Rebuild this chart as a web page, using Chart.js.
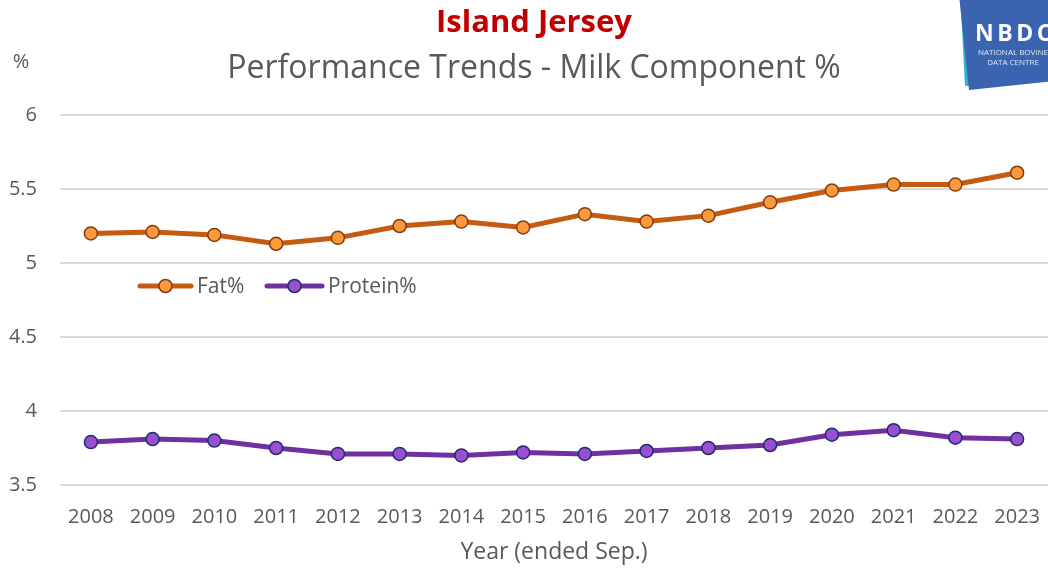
<!DOCTYPE html>
<html>
<head>
<meta charset="utf-8">
<script src="https://cdn.jsdelivr.net/npm/chart.js@4/dist/chart.umd.min.js"></script>
<style>
  html, body { margin: 0; padding: 0; background: #fff; }
  #wrap { position: relative; width: 1048px; height: 570px; overflow: hidden; }
  canvas { position: absolute; left: 0; top: 0; }
  .logo-back { position: absolute; left: 965px; top: -14px; width: 110px; height: 100px;
    background: #2cb5c9; transform: rotate(-3deg); transform-origin: 0 100%; }
  .logo { position: absolute; left: 969px; top: -10px; width: 110px; height: 100px;
    background: #3a64b0; transform: rotate(-6deg); transform-origin: 0 100%; }
  .logo-text { position: absolute; left: 975px; top: 20px; color: #fff; font-family: "Open Sans", sans-serif;
    font-weight: 700; font-size: 23px; letter-spacing: 3.5px; line-height: 24px; white-space: nowrap; }
  .logo-sub { position: absolute; left: 975px; top: 47px; color: #dfe8f6; font-family: "Open Sans", sans-serif;
    font-size: 8px; line-height: 9.5px; text-align: center; width: 76px; white-space: nowrap; }
</style>
</head>
<body>
<div id="wrap">
  <canvas id="c" width="1048" height="570"></canvas>
  <div class="logo-back"></div>
  <div class="logo"></div>
  <div class="logo-text">NBDC</div>
  <div class="logo-sub">NATIONAL BOVINE<br>DATA CENTRE</div>
</div>
<script>
// Years (ended September)
const years = ['2008','2009','2010','2011','2012','2013','2014','2015',
               '2016','2017','2018','2019','2020','2021','2022','2023'];
// Average milk fat %
const fatPct = [5.20, 5.21, 5.19, 5.13, 5.17, 5.25, 5.28, 5.24,
                5.33, 5.28, 5.32, 5.41, 5.49, 5.53, 5.53, 5.61];
// Average milk protein %
const proteinPct = [3.79, 3.81, 3.80, 3.75, 3.71, 3.71, 3.70, 3.72,
                    3.71, 3.73, 3.75, 3.77, 3.84, 3.87, 3.82, 3.81];
// Y axis ticks
const yTicks = [3.5, 4, 4.5, 5, 5.5, 6];

const FONT = '"Open Sans", sans-serif';
const GREY = '#595959';

// Titles, unit label and in-plot legend
const decorations = {
  id: 'decorations',
  afterDraw(chart) {
    const ctx = chart.ctx;
    ctx.save();
    ctx.textBaseline = 'middle';
    ctx.textAlign = 'center';
    ctx.fillStyle = '#c00000';
    ctx.font = 'bold 31px ' + FONT;
    ctx.fillText('Island Jersey', 534, 23);
    ctx.fillStyle = GREY;
    ctx.font = '32px ' + FONT;
    ctx.fillText('Performance Trends - Milk Component %', 534, 69);
    ctx.font = '20px ' + FONT;
    ctx.fillText('%', 21, 62);

    // legend
    const items = chart.data.datasets.map((ds, i) => ({ ds, x: i === 0 ? 140 : 267, len: i === 0 ? 51 : 55 }));
    const y = 286;
    ctx.textAlign = 'left';
    ctx.font = '21px ' + FONT;
    items.forEach(({ ds, x, len }) => {
      ctx.strokeStyle = ds.borderColor;
      ctx.lineWidth = ds.borderWidth;
      ctx.lineCap = 'round';
      ctx.beginPath();
      ctx.moveTo(x, y);
      ctx.lineTo(x + len, y);
      ctx.stroke();
      ctx.beginPath();
      ctx.arc(x + len / 2, y, ds.pointRadius, 0, Math.PI * 2);
      ctx.fillStyle = ds.pointBackgroundColor;
      ctx.fill();
      ctx.lineWidth = ds.pointBorderWidth;
      ctx.strokeStyle = ds.pointBorderColor;
      ctx.stroke();
      ctx.fillStyle = GREY;
      ctx.fillText(ds.label, x + len + 6, y + 1);
    });
    ctx.restore();
  }
};

new Chart(document.getElementById('c'), {
  type: 'line',
  data: {
    labels: years,
    datasets: [
      {
        label: 'Fat%',
        data: fatPct,
        borderColor: '#c55a11',
        borderWidth: 5,
        pointRadius: 6.5,
        pointBackgroundColor: '#fb9a3c',
        pointBorderColor: '#843c0c',
        pointBorderWidth: 1.5,
        tension: 0
      },
      {
        label: 'Protein%',
        data: proteinPct,
        borderColor: '#7030a0',
        borderWidth: 5,
        pointRadius: 6.5,
        pointBackgroundColor: '#9a4fd0',
        pointBorderColor: '#1f2d6b',
        pointBorderWidth: 1.5,
        tension: 0
      }
    ]
  },
  options: {
    responsive: false,
    animation: false,
    layout: { autoPadding: false, padding: { top: 115, left: 0, right: 0, bottom: 0 } },
    plugins: { legend: { display: false }, tooltip: { enabled: false } },
    scales: {
      x: {
        offset: true,
        grid: { display: false, drawTicks: false },
        border: { display: false },
        ticks: { color: GREY, font: { family: FONT, size: 20 }, padding: 20, maxRotation: 0, autoSkip: false },
        title: { display: true, text: 'Year (ended Sep.)', color: GREY, font: { family: FONT, size: 23 }, padding: { top: 7 } },
        afterFit(s) { s.height = 85; s.paddingLeft = 0; s.paddingRight = 0; }
      },
      y: {
        min: 3.5, max: 6,
        afterBuildTicks(s) { s.ticks = yTicks.map(v => ({ value: v })); },
        grid: { color: '#d9d9d9', lineWidth: 2, drawTicks: false },
        border: { display: false },
        ticks: { color: GREY, font: { family: FONT, size: 20 }, padding: 23, callback: v => String(v) },
        afterFit(s) { s.width = 60; }
      }
    }
  },
  plugins: [decorations]
});
</script>
</body>
</html>
